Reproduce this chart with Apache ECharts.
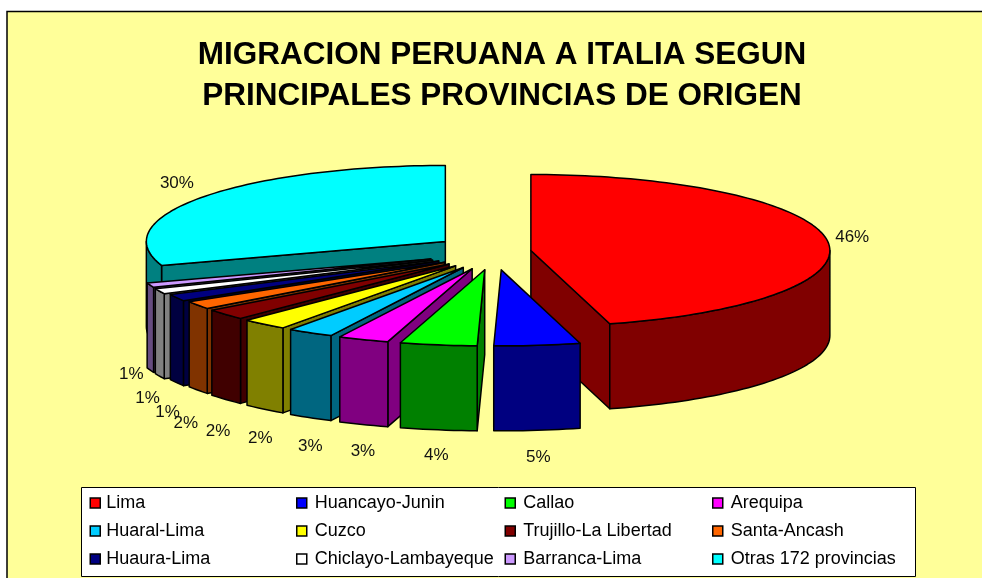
<!DOCTYPE html>
<html>
<head>
<meta charset="utf-8">
<style>html,body{margin:0;padding:0;background:#fff}#c{width:982px;height:578px}</style>
<script src="https://cdn.jsdelivr.net/npm/echarts@6/dist/echarts.min.js"></script>
</head>
<body>
<div id="c"></div>
<script>
const titleText = 'MIGRACION PERUANA A ITALIA SEGUN\nPRINCIPALES PROVINCIAS DE ORIGEN';
const categories = ['Lima','Huancayo-Junin','Callao','Arequipa','Huaral-Lima','Cuzco','Trujillo-La Libertad','Santa-Ancash','Huaura-Lima','Chiclayo-Lambayeque','Barranca-Lima','Otras 172 provincias'];
const values = [45.75,4.65,4.15,2.75,2.5,2.49,2.3,1.7,1.45,1.16,1.0,30.1];
const colors = ['#ff0000','#0000ff','#00ff00','#ff00ff','#00ccff','#ffff00','#800000','#ff6600','#000080','#ffffff','#cc99ff','#00ffff'];
const wallColors = ['#800000','#000080','#008000','#800080','#006680','#808000','#400000','#803300','#000040','#808080','#664c80','#008080'];

// layout of the projected pie
const CX = 494, CY = 252, RX = 299, RY = 76, DEPTH = 85, EX = 60, EY = 18;
const explodeFactors = [0.62,1,1,1,1,1,1,1,1.05,1.12,1.12,1];
const labelNudge = [[25,-3],[1,26.5],[-2,25],[-0.5,27],[0,29],[-4,29],[-7.5,31.5],[-12,33],[-9,30],[-12,22],[-19,4],[-26,-14]];
const legendTextGap = [1,3,3,3];

const total = values.reduce((a,b)=>a+b,0);
const rad = d => d*Math.PI/180;
let acc = 0;
const spans = values.map(v => { const a0 = acc/total*360; acc += v; return [a0, acc/total*360]; });

function rim(c, deg, dz){ return [c[0]+RX*Math.sin(rad(deg)), c[1]-RY*Math.cos(rad(deg))+(dz||0)]; }
function arc(c, a, b, dz){ const n = Math.max(2, Math.ceil((b-a)/1.5)), p=[]; for(let k=0;k<=n;k++) p.push(rim(c, a+(b-a)*k/n, dz)); return p; }

function sliceItem(i){
  return function(params, api){
    const v = api.value(0);
    const [a0,a1] = spans[i], mid=(a0+a1)/2, e=explodeFactors[i];
    const c=[CX+e*EX*Math.sin(rad(mid)), CY-e*EY*Math.cos(rad(mid))];
    const st = f => ({fill:f, stroke:'#000', lineWidth:1.5, lineJoin:'round'});
    const ch=[];
    const radial = a => ({type:'polygon', shape:{points:[c,[c[0],c[1]+DEPTH],rim(c,a,DEPTH),rim(c,a,0)]}, style:st(wallColors[i])});
    if(Math.sin(rad(a0))<-1e-6) ch.push(radial(a0));
    if(Math.sin(rad(a1))>1e-6) ch.push(radial(a1));
    const w0=Math.max(a0,90), w1=Math.min(a1,270);
    if(w1>w0){
      ch.push({type:'polygon', shape:{points:arc(c,w0,w1,0).concat(arc(c,w0,w1,DEPTH).reverse())}, style:st(wallColors[i])});
    }
    ch.push({type:'polygon', shape:{points:[c].concat(arc(c,a0,a1,0))}, style:st(colors[i])});
    const front = mid>90 && mid<270;
    const anchor = rim(c,mid,front?DEPTH:0);
    ch.push({type:'text', z2:10, style:{
      x:anchor[0]+labelNudge[i][0], y:anchor[1]+labelNudge[i][1],
      text:Math.round(v/total*100)+'%', fill:'#111', align:'center', verticalAlign:'middle',
      font:'17px "Liberation Sans", Arial, sans-serif'}});
    return {type:'group', children:ch};
  };
}

const paintOrder = [11,0,10,9,8,7,6,5,4,3,2,1];
const series = categories.map((name,i)=>({
  type:'custom', name, coordinateSystem:'none', silent:true,
  z: 2+paintOrder.indexOf(i), itemStyle:{color:colors[i]},
  data:[[values[i]]], renderItem:sliceItem(i)
}));

const legendCols = [[0,4,8],[1,5,9],[2,6,10],[3,7,11]];
const legendX = [89.5,296,504.5,712];
const legend = legendCols.map((col,k)=>({
  orient:'vertical', left:legendX[k], top:494, padding:0, itemGap:10, itemWidth:10, itemHeight:10,
  selectedMode:false, icon:'rect',
  data:col.map(i=>categories[i]),
  itemStyle:{borderColor:'#000',borderWidth:1.5},
  textStyle:{color:'#000',fontSize:18,lineHeight:18,fontFamily:'"Liberation Sans", Arial, sans-serif',padding:[0,0,0,legendTextGap[k]]}
}));

const chart = echarts.init(document.getElementById('c'));
chart.setOption({
  animation:false,
  backgroundColor:'#fff',
  title:{text:titleText,left:502,top:35,textAlign:'center',padding:0,
    textStyle:{fontSize:31.5,fontWeight:'bold',color:'#000',lineHeight:41,fontFamily:'"Liberation Sans", Arial, sans-serif'}},
  legend,
  graphic:[
    {type:'rect',z:-10,silent:true,shape:{x:7,y:11.5,width:1000,height:600},style:{fill:'#ffff99',stroke:'#000',lineWidth:1.5}},
    {type:'rect',z:-9,silent:true,shape:{x:81.5,y:487.5,width:834,height:89},style:{fill:'#fff',stroke:'#000',lineWidth:1}}
  ],
  series
});
</script>
</body>
</html>
